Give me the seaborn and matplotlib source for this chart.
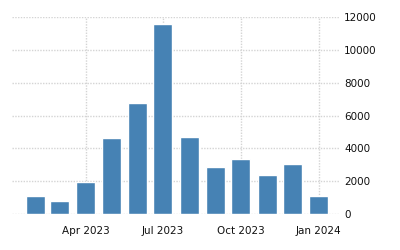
import matplotlib
matplotlib.use("Agg")
import matplotlib.pyplot as plt
import matplotlib.dates as mdates
import seaborn as sns
import pandas as pd
import numpy as np

months = ["2023-02-01", "2023-03-01", "2023-04-01", "2023-05-01", "2023-06-01",
          "2023-07-01", "2023-08-01", "2023-09-01", "2023-10-01", "2023-11-01",
          "2023-12-01", "2024-01-01"]
values = [1100, 790, 1950, 4640, 6770, 11580, 4690, 2860, 3350, 2380, 3040, 1100]
y_ticks = [0, 2000, 4000, 6000, 8000, 10000, 12000]

sns.set_theme(style="white")
plt.rcParams["font.family"] = ["DejaVu Sans"]

dates = pd.to_datetime(months)
df = pd.DataFrame({"x": mdates.date2num(dates), "value": values})

fig = plt.figure(figsize=(4, 2.5), dpi=100)
ax = fig.add_axes([0.03, 0.144, 0.82, 0.788])

sns.barplot(data=df, x="x", y="value", native_scale=True, color="#4682B4",
            saturation=1, width=0.8, ax=ax, zorder=3)

ax.set_xlim(mdates.date2num(pd.Timestamp("2023-01-04")),
            mdates.date2num(pd.Timestamp("2024-01-26")))
ax.set_ylim(0, 12000)
ax.xaxis.set_major_locator(mdates.MonthLocator(bymonth=[1, 4, 7, 10]))
ax.xaxis.set_major_formatter(mdates.DateFormatter("%b %Y"))
ax.set_yticks(y_ticks)
ax.set_yticklabels([str(v) for v in y_ticks])
ax.yaxis.tick_right()
ax.yaxis.set_label_position("right")

ax.grid(True, axis="both", color="#d4d4d4", linestyle=(0, (1, 1)), linewidth=1, zorder=0)
ax.set_axisbelow(True)
for s in ax.spines.values():
    s.set_visible(False)
ax.tick_params(axis="both", length=0, labelsize=7.5, colors="#111111")
ax.tick_params(axis="y", pad=3)
ax.tick_params(axis="x", pad=9)
ax.set_xlabel("")
ax.set_ylabel("")

fig.savefig("out.png", dpi=100)
